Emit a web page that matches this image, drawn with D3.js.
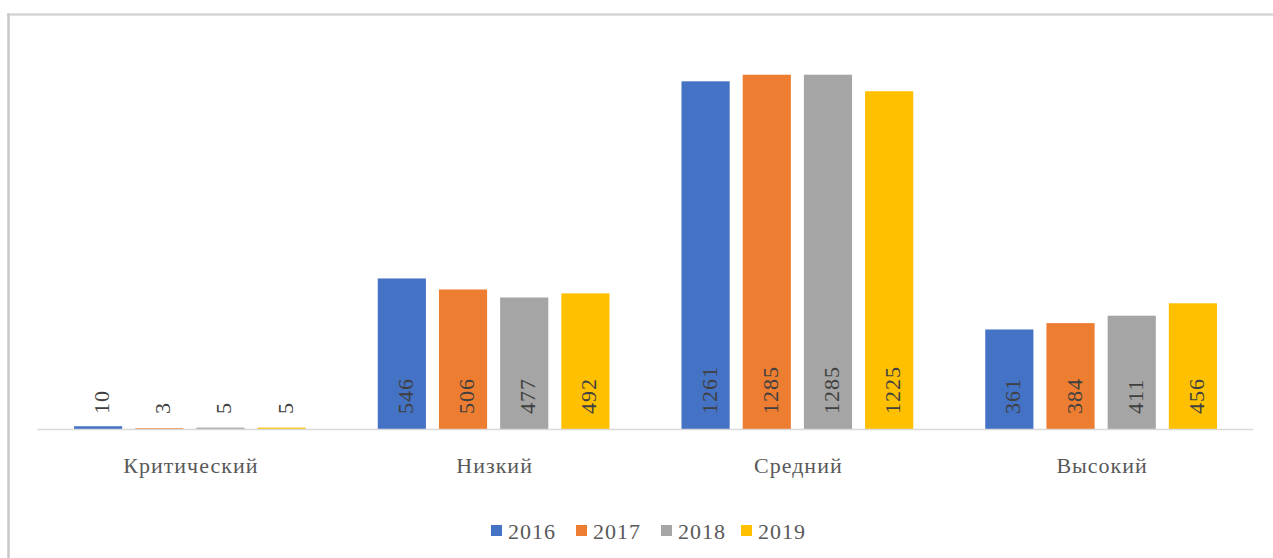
<!DOCTYPE html>
<html>
<head>
<meta charset="utf-8">
<script src="https://cdn.jsdelivr.net/npm/d3@7"></script>
<style>
  html, body { margin: 0; padding: 0; background: #fff; }
  svg { display: block; }
  .t { font-family: "Liberation Serif", "Times New Roman", serif; font-size: 22px; letter-spacing: 1px; }
</style>
</head>
<body>
<svg id="chart" width="1273" height="558"></svg>
<script>
const categories = ["Критический", "Низкий", "Средний", "Высокий"];
const years = ["2016", "2017", "2018", "2019"];
const values2016 = [10, 546, 1261, 361];
const values2017 = [3, 506, 1285, 384];
const values2018 = [5, 477, 1285, 411];
const values2019 = [5, 492, 1225, 456];
const colors = ["#4472C4", "#ED7D31", "#A5A5A5", "#FFC000"];
const yMax = 1400;

(function () {
const series = [values2016, values2017, values2018, values2019];
const rows = [];
categories.forEach((c, i) => years.forEach((yr, j) => rows.push({cat: c, year: yr, value: series[j][i], color: colors[j]})));

const svg = d3.select("#chart");

// frame
svg.append("line").attr("x1", 7).attr("x2", 1273).attr("y1", 14.5).attr("y2", 14.5)
  .attr("stroke", "#D6D6D6").attr("stroke-width", 2.5);
svg.append("line").attr("x1", 8.5).attr("x2", 8.5).attr("y1", 13.5).attr("y2", 558)
  .attr("stroke", "#C8C8C8").attr("stroke-width", 2.5);

const plotLeft = 38, plotRight = 1253, plotBase = 429, plotTop = 43;
const x0 = d3.scaleBand().domain(categories).range([plotLeft, plotRight]).padding(0);
const bw = x0.bandwidth();
const x1 = d3.scaleBand().domain(years).range([36, bw - 36]).paddingInner(0.213).paddingOuter(0);
const y = d3.scaleLinear().domain([0, yMax]).range([plotBase, plotTop]);

// bars
svg.append("g").selectAll("rect").data(rows).join("rect")
  .attr("x", d => x0(d.cat) + x1(d.year))
  .attr("width", x1.bandwidth())
  .attr("y", d => y(d.value))
  .attr("height", d => y(0) - y(d.value))
  .attr("fill", d => d.color);

// axis baseline
svg.append("line").attr("x1", plotLeft - 1).attr("x2", plotRight).attr("y1", plotBase + 0.5).attr("y2", plotBase + 0.5)
  .attr("stroke", "#D9D9D9").attr("stroke-width", 1.5);

// data labels (rotated, inside base)
svg.append("g").selectAll("text").data(rows).join("text")
  .attr("class", "t")
  .attr("transform", d => {
    const cx = x0(d.cat) + x1(d.year) + x1.bandwidth() / 2 + 11;
    return `translate(${cx},${plotBase - 15}) rotate(-90)`;
  })
  .attr("text-anchor", "start")
  .attr("fill", "#404040")
  .text(d => d.value);

// category labels
svg.append("g").selectAll("text").data(categories).join("text")
  .attr("class", "t")
  .attr("x", d => x0(d) + bw / 2 + 1)
  .attr("y", 473)
  .attr("text-anchor", "middle")
  .attr("fill", "#595959")
  .text(d => d);

// legend
const legendX = [491, 576, 661, 741];
const lg = svg.append("g").selectAll("g").data(years).join("g")
  .attr("transform", (d, i) => `translate(${legendX[i]},0)`);
lg.append("rect").attr("x", 0).attr("y", 525).attr("width", 11).attr("height", 11)
  .attr("fill", (d, i) => colors[i]);
lg.append("text").attr("class", "t").attr("x", 17).attr("y", 539)
  .attr("fill", "#595959")
  .text(d => d);
})();
</script>
</body>
</html>
